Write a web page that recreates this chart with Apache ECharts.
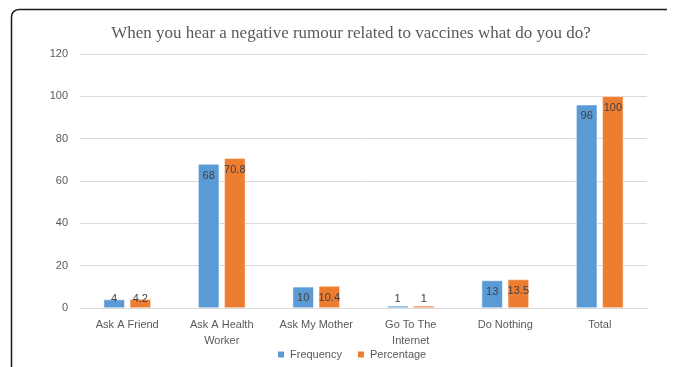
<!DOCTYPE html>
<html>
<head>
<meta charset="utf-8">
<style>
  html, body { margin: 0; padding: 0; background: #fff; overflow: hidden; }
  #chart { width: 677px; height: 367px; }
</style>
<script src="https://cdn.jsdelivr.net/npm/echarts@6/dist/echarts.min.js"></script>
</head>
<body>
<div id="chart"></div>
<script>
// Survey responses: what people do after hearing a negative vaccine rumour
const categories = ['Ask A Friend', 'Ask A Health\nWorker', 'Ask My Mother', 'Go To The\nInternet', 'Do Nothing', 'Total'];
const frequency = [4, 68, 10, 1, 13, 96];
const percentage = [4.2, 70.8, 10.4, 1, 13.5, 100];
const yTicks = { min: 0, max: 120, interval: 20 };

// Value labels sit just inside the bar end; very short bars keep theirs near the base
function labelled(values) {
  return values.map(v => ({
    value: v,
    label: v < 5
      ? { position: 'insideBottom', distance: 4 }
      : { position: 'insideTop', distance: 6 }
  }));
}

const frameStyle = { stroke: '#1a1a1a', lineWidth: 1.5, lineCap: 'butt' };

const chart = echarts.init(document.getElementById('chart'));
chart.setOption({
  animation: false,
  title: {
    text: 'When you hear a negative rumour related to vaccines what do you do?',
    left: 346,
    textAlign: 'center',
    top: 20,
    textStyle: {
      fontFamily: 'Liberation Serif',
      fontWeight: 'normal',
      fontSize: 17,
      color: '#595959'
    }
  },
  legend: {
    bottom: 2,
    left: 271,
    itemWidth: 8,
    itemHeight: 8,
    itemGap: 14,
    icon: 'rect',
    textStyle: { fontFamily: 'Liberation Sans', fontSize: 11, color: '#595959' },
    data: ['Frequency', 'Percentage']
  },
  grid: { left: 80, right: 30, top: 54, bottom: 59 },
  xAxis: {
    type: 'category',
    data: categories,
    axisTick: { show: false },
    axisLine: { lineStyle: { color: '#d9d9d9' } },
    axisLabel: {
      interval: 0,
      margin: 9,
      lineHeight: 16,
      fontFamily: 'Liberation Sans',
      fontSize: 11,
      color: '#595959'
    }
  },
  yAxis: {
    type: 'value',
    min: yTicks.min,
    max: yTicks.max,
    interval: yTicks.interval,
    axisLine: { show: false },
    axisTick: { show: false },
    splitLine: { lineStyle: { color: '#d9d9d9' } },
    axisLabel: {
      margin: 12,
      fontFamily: 'Liberation Sans',
      fontSize: 11,
      color: '#595959'
    }
  },
  series: [
    {
      name: 'Frequency',
      type: 'bar',
      data: labelled(frequency),
      barGap: '24%',
      barCategoryGap: '50%',
      itemStyle: { color: '#5b9bd5', borderColor: '#ffffff', borderWidth: 0.5 },
      label: { show: true, color: '#404040', fontFamily: 'Liberation Sans', fontSize: 11 }
    },
    {
      name: 'Percentage',
      type: 'bar',
      data: labelled(percentage),
      barGap: '24%',
      barCategoryGap: '50%',
      itemStyle: { color: '#ed7d31', borderColor: '#ffffff', borderWidth: 0.5 },
      label: { show: true, color: '#404040', fontFamily: 'Liberation Sans', fontSize: 11 }
    }
  ],
  graphic: [
    // outer frame: left edge, rounded top-left corner, top edge
    { type: 'line', shape: { x1: 11.5, y1: 367, x2: 11.5, y2: 17 }, style: frameStyle },
    {
      type: 'polyline',
      shape: { points: [[11.5, 17], [12.1, 13.7], [13.7, 11.6], [15.9, 10.1], [19, 9.5]] },
      style: frameStyle
    },
    { type: 'line', shape: { x1: 19, y1: 9.5, x2: 667, y2: 9.5 }, style: frameStyle }
  ]
});
</script>
</body>
</html>
